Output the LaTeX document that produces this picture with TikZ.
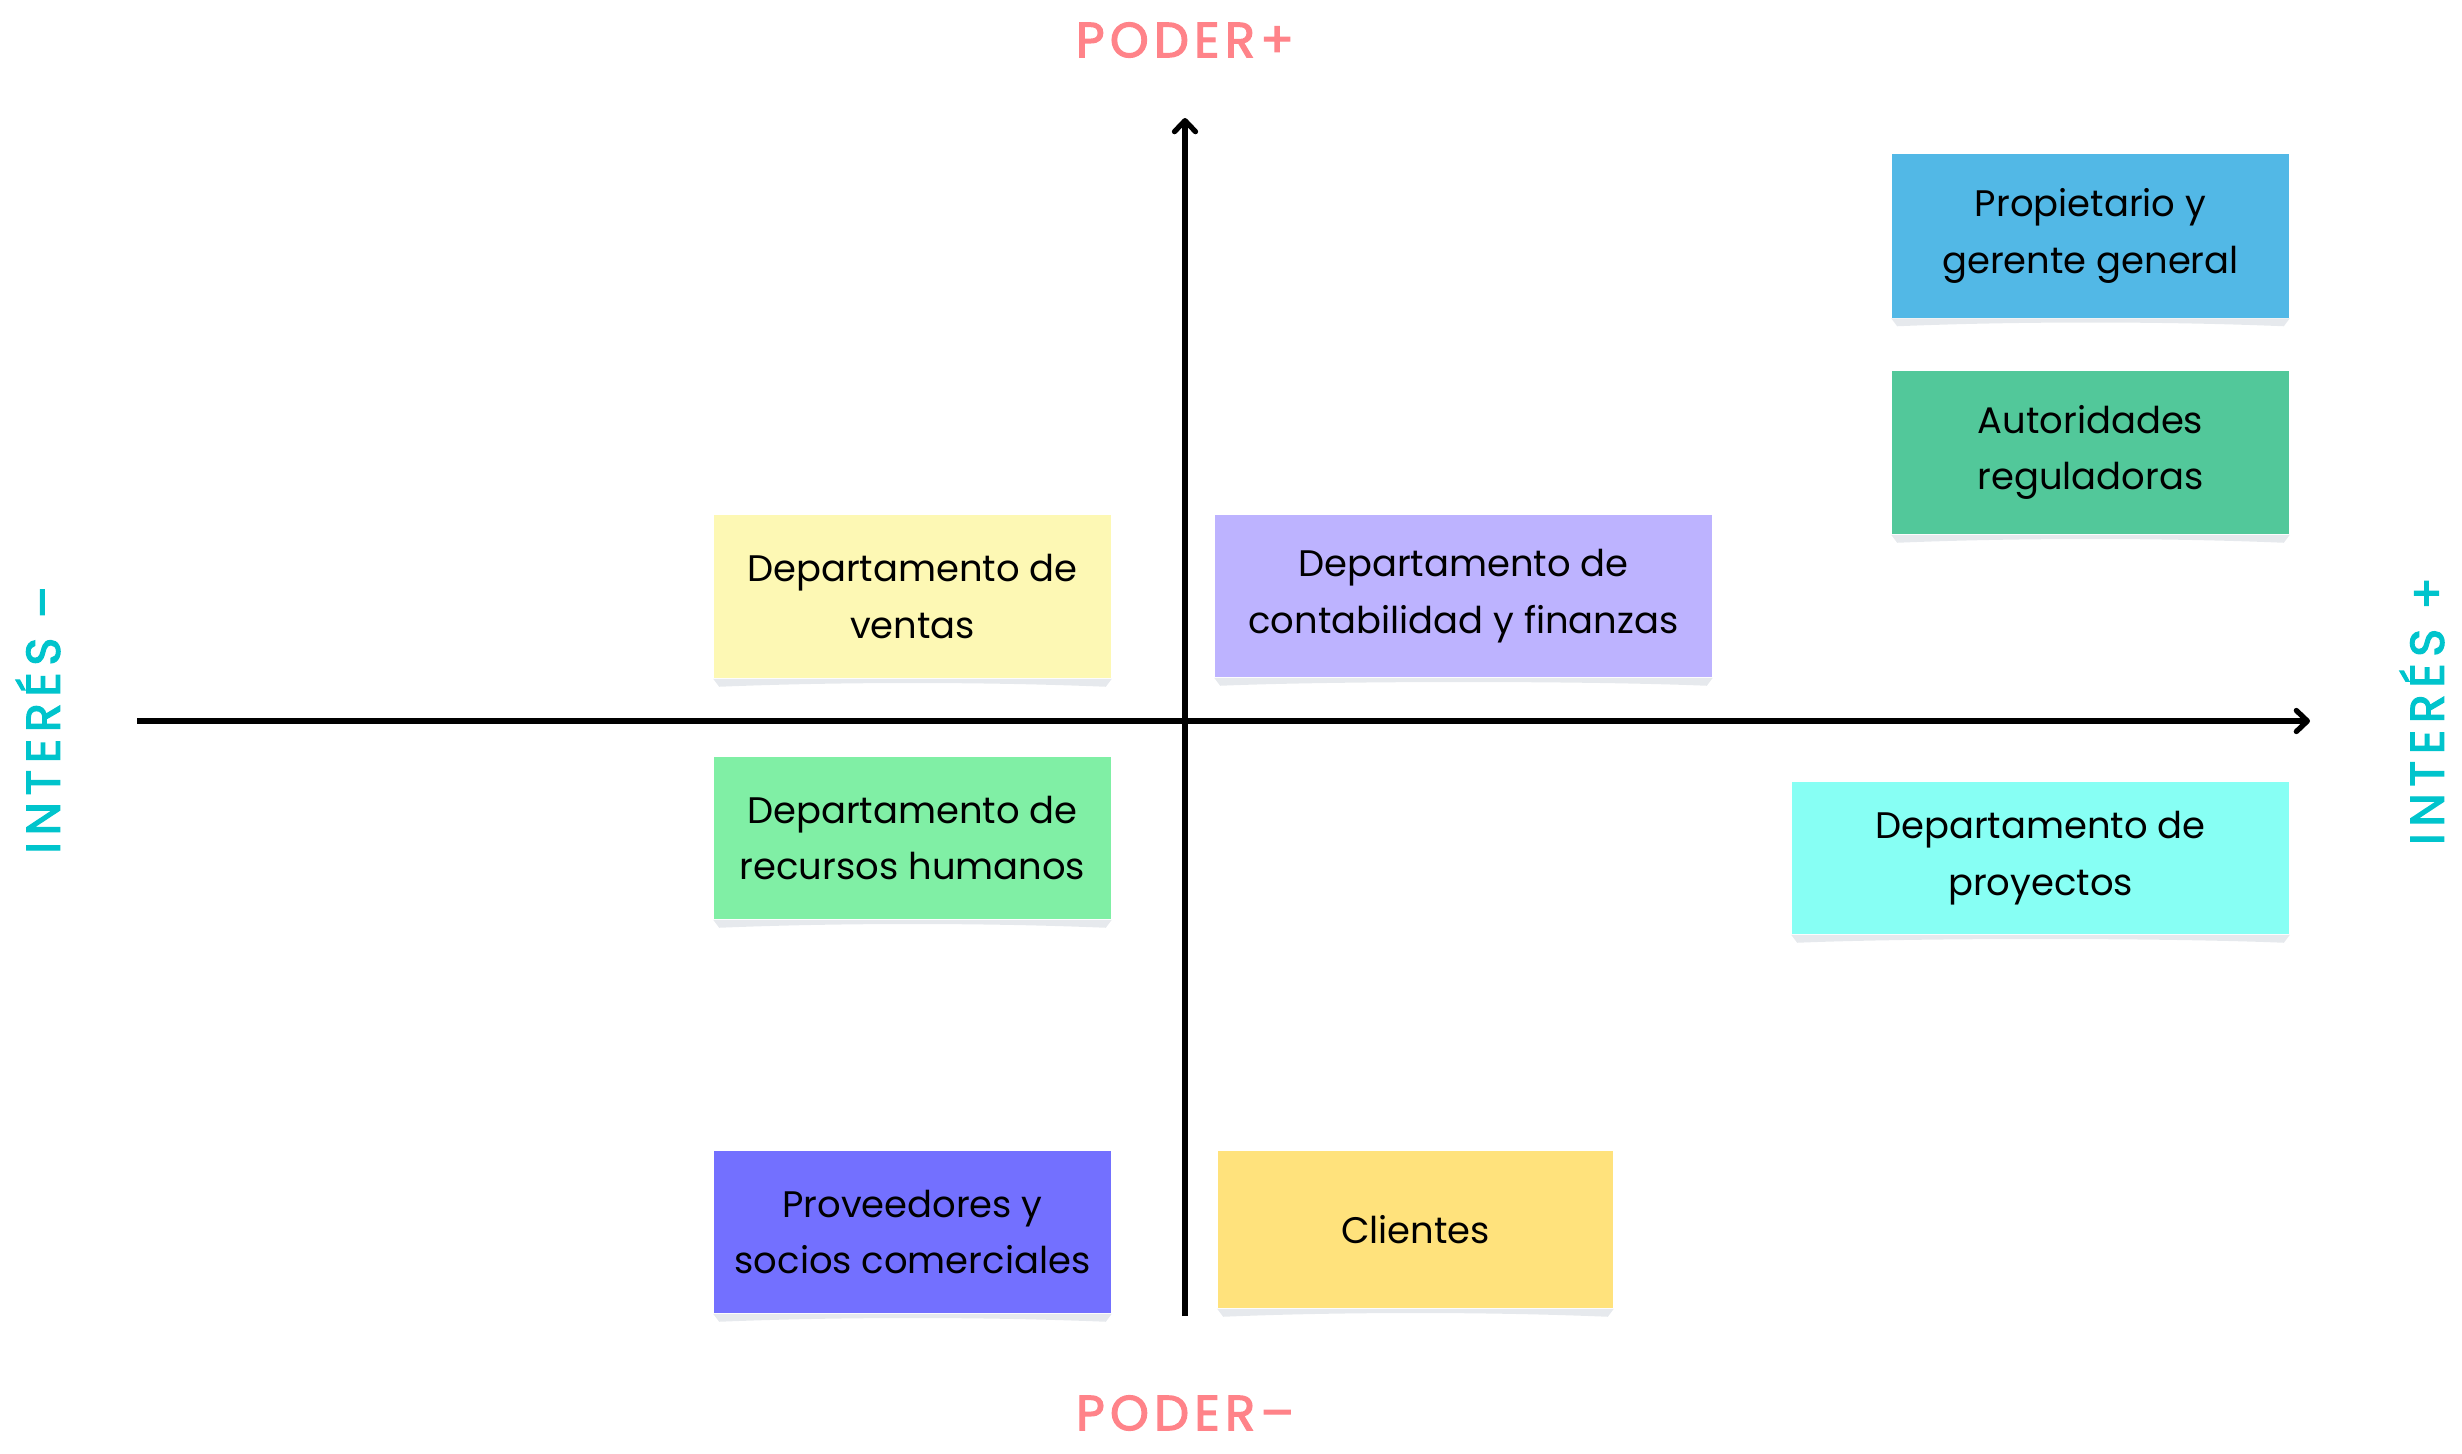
\documentclass[tikz,border=0pt]{standalone}
\usepackage{fontspec}
\setmainfont{Poppins}
\newfontfamily\ejefont[FakeBold=2.6]{Poppins}
\usetikzlibrary{arrows.meta,calc}
\definecolor{poderrosa}{HTML}{FF8389}
\definecolor{interescian}{HTML}{00C4CC}
\definecolor{sombragris}{HTML}{E6E9ED}
\definecolor{azulnota}{HTML}{52B8E6}
\definecolor{verdenota}{HTML}{52C89A}
\definecolor{amarillopalido}{HTML}{FDF8B4}
\definecolor{lilanota}{HTML}{BDB3FF}
\definecolor{verdeclaro}{HTML}{80EFA5}
\definecolor{aguanota}{HTML}{87FFF4}
\definecolor{indigonota}{HTML}{7370FF}
\definecolor{amarillonota}{HTML}{FFE27C}
\begin{document}
\begin{tikzpicture}[x=0.01cm, y=-0.01cm, every node/.style={font=\fontsize{10.5}{16}\selectfont},
  nota/.style={minimum width=3.97cm,minimum height=1.62cm,align=center,inner sep=0pt},
  eje/.style={line width=1.5pt,-{Straight Barb[round,length=1.1mm,width=2.1mm]}},
  poder/.style={font=\ejefont\fontsize{14}{14}\selectfont\addfontfeature{LetterSpace=11},text=poderrosa},
  interes/.style={font=\ejefont\fontsize{13.5}{14}\selectfont\addfontfeature{LetterSpace=14},text=interescian,rotate=90}]
\useasboundingbox (0,0) rectangle (2462,1453);
% ejes
\coordinate (izq) at (137,721);
\coordinate (der) at (2310,721);
\coordinate (abajo) at (1185,1316);
\coordinate (arriba) at (1185,118);
\draw[eje] (izq) -- (der);
\draw[eje] (abajo) -- (arriba);
\node[poder] (pmas) at (1185,40) {PODER+};
\node[poder] (pmenos) at (1185,1413) {PODER–};
\node[interes] (imenos) at (38,720) {INTERÉS –};
\node[interes] (imas) at (2422,711) {INTERÉS +};
% notas
\node[nota,fill=azulnota,minimum height=1.63cm] (prop) at (2090.5,236) {Propietario y\\gerente general};
\node[nota,fill=verdenota,minimum height=1.63cm] (auto) at (2090.5,452.5) {Autoridades\\reguladoras};
\node[nota,fill=amarillopalido,minimum height=1.63cm] (ventas) at (912.5,596.5) {Departamento de\\ventas};
\node[nota,fill=lilanota,minimum width=4.97cm] (conta) at (1463.5,596) {Departamento de\\contabilidad y finanzas};
\node[nota,fill=verdeclaro] (rrhh) at (912.5,838) {Departamento de\\recursos humanos};
\node[nota,fill=aguanota,minimum width=4.97cm,minimum height=1.52cm] (proy) at (2040.5,858) {Departamento de\\proyectos};
\node[nota,fill=indigonota] (prov) at (912.5,1232) {Proveedores y\\socios comerciales};
\node[nota,fill=amarillonota,minimum width=3.95cm,minimum height=1.57cm] (cli) at (1415.5,1229.5) {Clientes};
% sombras
\foreach \n in {prop,auto,ventas,conta,rrhh,proy,prov,cli}
  \fill[sombragris] (\n.south east) -- ++(-6,8) .. controls +(-120,-5) and +(120,-5) .. ($(\n.south west)+(6,8)$) -- (\n.south west) -- cycle;
\end{tikzpicture}
\end{document}
